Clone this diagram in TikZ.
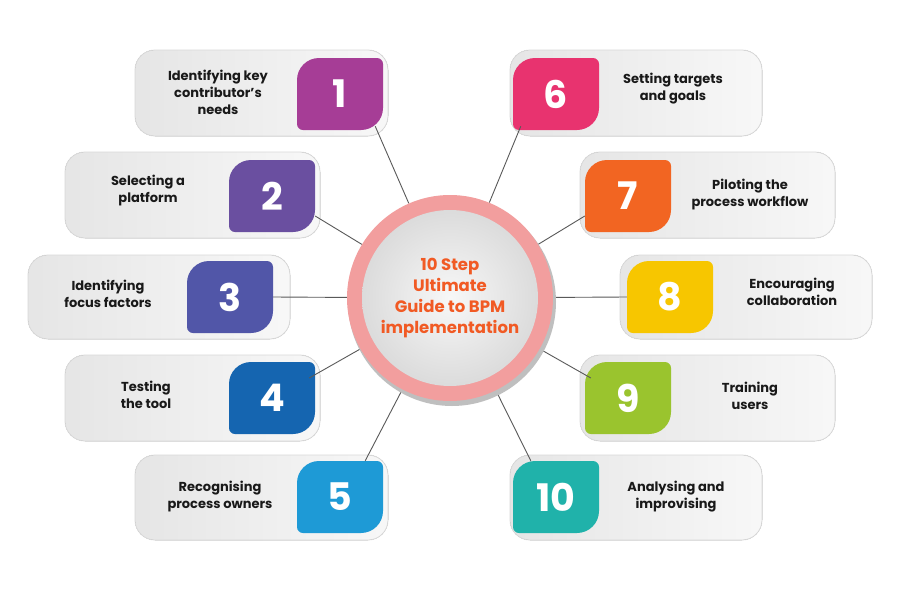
\documentclass[tikz,border=0pt]{standalone}
\usepackage{fontspec}
\setmainfont{Poppins}[BoldFont={Poppins Bold}]
\begin{document}
\begin{tikzpicture}[x=1pt,y=-1pt,
  cardbox/.style={draw=black!15,line width=0.8pt,left color=black!10,right color=black!3,rounded corners=20pt},
  cardtext/.style={align=center,font=\fontsize{13}{17}\selectfont\bfseries,text=black!90},
  numtext/.style={font=\fontsize{38}{40}\selectfont\bfseries,text=white},
  conn/.style={draw=black!65,line width=0.9pt}]
\fill[white] (0,0) rectangle (900,600);
\newcommand\card[4]{\fill[cardbox] (#1,#2) rectangle (#3,#4);}
\newcommand\badge[5]{%
  \fill[#4] ({#2-43},{#3}) [rounded corners=22pt]-- ({#2-43},{#3-36}) [rounded corners=6pt]-- ({#2+43},{#3-36}) [rounded corners=22pt]-- ({#2+43},{#3+36}) [rounded corners=6pt]-- ({#2-43},{#3+36}) -- cycle;
  \node[numtext,minimum width=86pt,minimum height=72pt] (#1) at (#2,#3) {#5};}
\definecolor{c1}{HTML}{A63D96}\definecolor{c2}{HTML}{6A4FA0}
\definecolor{c3}{HTML}{5156A8}\definecolor{c4}{HTML}{1565B0}
\definecolor{c5}{HTML}{1E9AD6}\definecolor{c6}{HTML}{E8336F}
\definecolor{c7}{HTML}{F26522}\definecolor{c8}{HTML}{F7C600}
\definecolor{c9}{HTML}{9AC42E}\definecolor{c10}{HTML}{20B2AA}
% center
\node[circle,minimum size=206pt,fill=none] (c) at (450,298) {};
% cards
\card{135}{50}{388}{136}\card{65}{152}{320}{238}\card{28}{255}{290}{339}
\card{65}{355}{320}{441}\card{135}{455}{388}{540}
\card{510}{50}{762}{136}\card{580}{152}{835}{238}\card{620}{255}{872}{339}
\card{580}{355}{835}{441}\card{510}{455}{762}{540}
\badge{b1}{340}{94}{c1}{1}\badge{b2}{272}{196}{c2}{2}\badge{b3}{230}{297}{c3}{3}
\badge{b4}{272}{398}{c4}{4}\badge{b5}{340}{497}{c5}{5}
\badge{b6}{556}{94}{c6}{6}\badge{b7}{628}{196}{c7}{7}\badge{b8}{670}{297}{c8}{8}
\badge{b9}{628}{398}{c9}{9}\badge{b10}{556}{497}{c10}{10}
\node[cardtext] (t1) at (218,92) {Identifying key\\contributor’s\\needs};
\node[cardtext] (t2) at (148,191) {Selecting a\\platform};
\node[cardtext] (t3) at (108,294) {Identifying\\focus factors};
\node[cardtext] (t4) at (146,395) {Testing\\the tool};
\node[cardtext] (t5) at (220,497) {Recognising\\process owners};
\node[cardtext] (t6) at (673,89) {Setting targets\\and goals};
\node[cardtext] (t7) at (750,195) {Piloting the\\process workflow};
\node[cardtext] (t8) at (792,292) {Encouraging\\collaboration};
\node[cardtext] (t9) at (750,396) {Training\\users};
\node[cardtext] (t10) at (676,497) {Analysing and\\improvising};
% connectors
\draw[conn] (b1.south east) ++(-8,-4) coordinate (k1) (k1) -- (c);
\draw[conn] (b2.east) ++(0,20) coordinate (k2) (k2) -- (c);
\draw[conn] (b3.east) -- (c);
\draw[conn] (b4.east) ++(-6,-20) coordinate (k4) (k4) -- (c);
\draw[conn] (b5.north east) ++(-18,0) coordinate (k5) (k5) -- (c);
\draw[conn] (b6.south west) ++(8,-4) coordinate (k6) (k6) -- (c);
\draw[conn] (b7.west) ++(0,20) coordinate (k7) (k7) -- (c);
\draw[conn] (b8.west) -- (c);
\draw[conn] (b9.west) ++(6,-20) coordinate (k9) (k9) -- (c);
\draw[conn] (b10.north west) ++(18,0) coordinate (k10) (k10) -- (c);
% circle drawn on top
\fill[black!25] (452,302) circle (104);
\fill[red!35!white!95!black] (c.center) circle (103);
\shade[inner color=black!3,outer color=black!14] (c.center) circle (88);
\node[align=center,font=\fontsize{16.5}{21}\selectfont\bfseries,text={rgb,255:red,241;green,90;blue,36}] (ct) at (c.center) {10 Step\\Ultimate\\Guide to BPM\\implementation};
\end{tikzpicture}
\end{document}
